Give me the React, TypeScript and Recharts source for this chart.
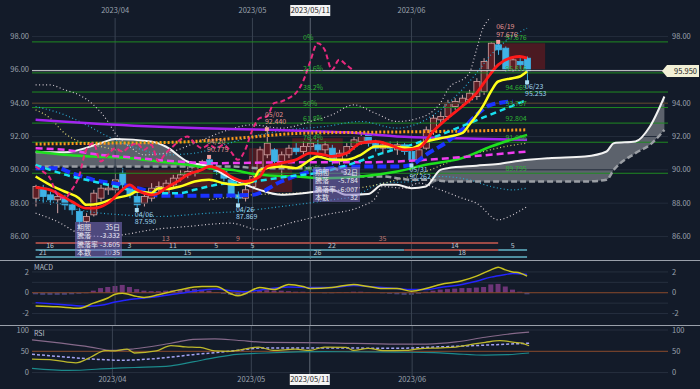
import React from 'react';
import {
  ComposedChart,
  Line,
  Area,
  Bar,
  Cell,
  XAxis,
  YAxis,
  ReferenceLine,
  ReferenceArea,
  ReferenceDot
} from 'recharts';

const BG = '#131b29';
const FONT = '"Noto Sans CJK JP", "Noto Sans", sans-serif';
const SLOTS = 88;

// daily candles (index 0 = mid March)
const opens = [88.3, 88.9, 88.5, 88.2, 88.3, 87.9, 87.5, 86.9, 87.3, 88.3, 88.8, 88.8, 89.8, 88.9, 88.4, 88.0, 88.3, 88.8, 88.6, 89.1, 89.5, 89.7, 89.8, 90.3, 90.6, 90.2, 89.9, 89.4, 88.5, 88.3, 89.0, 89.9, 90.9, 91.2, 90.5, 90.9, 91.3, 91.1, 91.4, 91.5, 91.2, 91.3, 90.5, 91.0, 91.4, 91.7, 92.1, 91.6, 91.3, 91.5, 91.2, 91.5, 91.1, 90.6, 91.3, 92.3, 93.0, 93.2, 93.8, 94.0, 94.2, 94.4, 94.7, 96.0, 97.5, 97.3, 96.0, 96.5, 96.7];
const highs = [89.1, 89.1, 88.7, 88.6, 88.5, 88.1, 87.7, 87.4, 88.8, 89.1, 89.2, 89.8, 90.1, 89.1, 88.6, 88.6, 89.2, 89.3, 89.4, 89.7, 90.0, 90.2, 90.5, 90.6, 90.775, 90.4, 90.1, 89.6, 88.7, 89.1, 89.9, 91.4, 92.44, 91.3, 91.1, 91.5, 91.6, 91.7, 91.8, 91.8, 91.7, 91.5, 91.2, 91.6, 92.0, 92.2, 92.2, 91.8, 91.7, 91.7, 91.7, 91.6, 91.2, 91.4, 92.6, 93.3, 93.5, 94.2, 94.3, 94.5, 94.8, 95.5, 96.7, 97.65, 97.676, 97.4, 96.8, 96.7, 96.8];
const lows = [87.8, 88.0, 87.9, 87.4, 87.6, 87.3, 86.5, 86.8, 87.2, 88.1, 88.5, 88.6, 88.9, 88.3, 87.59, 87.8, 88.1, 88.6, 88.4, 88.9, 89.3, 89.5, 89.6, 90.0, 90.0, 89.7, 89.3, 88.3, 87.869, 88.1, 88.8, 89.8, 90.7, 90.3, 89.7, 90.7, 90.9, 90.8, 91.2, 91.0, 90.9, 90.3, 90.3, 90.8, 91.2, 91.5, 91.4, 91.1, 91.0, 91.1, 90.9, 90.9, 90.262, 90.5, 91.2, 92.1, 92.8, 93.0, 93.6, 93.8, 94.0, 94.2, 94.5, 95.9, 96.9, 95.9, 95.9, 96.0, 95.253];
const closes = [89.0, 88.4, 88.2, 88.4, 87.9, 87.6, 86.9, 87.2, 88.6, 88.9, 88.9, 89.4, 89.1, 88.5, 87.9, 88.4, 88.9, 89.0, 89.2, 89.5, 89.7, 89.9, 90.3, 90.5, 90.2, 89.9, 89.5, 88.5, 88.3, 88.8, 89.6, 91.2, 91.6, 90.5, 90.9, 91.3, 91.1, 91.4, 91.6, 91.2, 91.5, 90.5, 91.0, 91.4, 91.8, 92.0, 91.6, 91.3, 91.5, 91.3, 91.5, 91.1, 90.6, 91.2, 92.4, 93.1, 93.2, 94.0, 94.1, 94.3, 94.6, 95.3, 96.5, 97.6, 97.2, 96.0, 96.6, 96.3, 95.95];
const lastPrice = 95.95;
const chikouShift = 24;

// moving averages etc. as [bar index, value] points
const redMa = [[0, 88.95], [2, 88.8], [5, 88.1], [7, 87.7], [8, 87.7], [10, 88.0], [12, 88.8], [13, 89.1], [14, 88.8], [16, 88.5], [17, 88.6], [18, 88.9], [20, 89.4], [21, 89.7], [23, 90.0], [24, 90.2], [26, 89.9], [27, 89.6], [29, 89.3], [31, 89.6], [32, 90.2], [34, 90.4], [36, 90.6], [38, 91.0], [40, 90.9], [41, 90.8], [43, 91.0], [45, 91.6], [47, 91.7], [49, 91.5], [51, 91.2], [53, 91.3], [55, 92.3], [57, 93.1], [59, 93.8], [61, 94.6], [62, 95.2], [64, 96.3], [66, 96.75], [67, 96.8], [68, 96.7]];
const yellowMa = [[0, 89.6], [2, 89.1], [4, 88.7], [6, 88.3], [7, 87.9], [9, 88.0], [11, 88.3], [13, 88.5], [14, 88.7], [16, 88.6], [17, 88.9], [18, 88.85], [20, 89.0], [22, 89.3], [24, 89.4], [26, 89.2], [28, 89.1], [30, 89.3], [31, 90.0], [34, 90.2], [36, 90.1], [38, 90.6], [39, 90.8], [41, 90.6], [43, 90.6], [45, 90.9], [47, 91.4], [49, 91.4], [52, 91.3], [54, 91.7], [56, 91.9], [59, 92.2], [60, 92.7], [62, 93.9], [63, 94.7], [64, 95.3], [66, 95.5], [67, 95.6], [68, 95.9]];
const cyanMa = [[0, 90.3], [2, 90.0], [5, 89.6], [7, 89.4], [10, 89.1], [12, 88.9], [14, 88.7], [17, 88.6], [20, 88.6], [22, 88.8], [25, 89.1], [30, 89.3], [35, 89.6], [40, 89.9], [44, 90.4], [48, 91.0], [52, 91.5], [56, 92.1], [60, 92.8], [64, 93.5], [68, 94.2]];
const blueMa = [[0, 90.1], [3, 90.1], [5, 89.8], [8, 89.4], [12, 89.1], [15, 88.8], [17, 88.45], [20, 88.45], [25, 88.45], [30, 88.5], [34, 89.3], [38, 89.9], [41, 90.1], [45, 90.2], [50, 90.2], [52, 90.3], [54, 90.9], [57, 91.7], [59, 92.4], [61, 93.3], [63, 93.9], [66, 94.1]];
const greenMa = [[0, 91.1], [4, 90.9], [8, 90.8], [13, 90.7], [17, 90.5], [21, 90.3], [24, 90.1], [27, 90.0], [31, 89.7], [36, 89.6], [40, 89.5], [45, 89.6], [50, 89.9], [54, 90.3], [59, 90.7], [63, 91.4], [68, 92.1]];
const magentaMa = [[0, 91.3], [4, 91.2], [9, 90.9], [13, 90.75], [18, 90.55], [25, 90.4], [35, 90.45], [45, 90.45], [54, 90.6], [60, 90.8], [68, 91.1]];
const purpleMa = [[0, 93.0], [9, 92.75], [23, 92.5], [32, 92.4], [43, 92.25], [50, 92.0], [58, 91.9], [68, 91.8]];
const orangeMa = [[0, 91.55], [10, 91.6], [19, 91.65], [28, 91.9], [37, 92.2], [45, 92.25], [55, 92.3], [68, 92.4]];

// bollinger style bands
const bandUpWhite = [[0, 95.1], [2, 95.1], [4, 94.8], [6, 94.5], [8, 93.9], [10, 92.9], [11, 92.2], [13, 91.4], [15, 90.9], [18, 91.0], [22, 91.6], [26, 92.3], [30, 92.7], [34, 92.5], [38, 92.9], [41, 93.3], [44, 93.9], [47, 93.4], [50, 92.9], [53, 93.1], [56, 94.0], [57, 94.8], [60, 95.8], [61, 97.2], [62, 98.6], [64, 99.4]];
const bandLoWhite = [[0, 87.4], [3, 86.9], [6, 86.2], [9, 86.0], [12, 86.1], [16, 86.4], [21, 86.6], [27, 86.8], [31, 86.4], [36, 86.9], [40, 87.3], [45, 87.8], [47, 88.3], [48, 89.0], [51, 88.9], [53, 89.2], [56, 88.8], [59, 88.3], [61, 88.0], [64, 87.0], [66, 87.3], [68, 87.8]];
const bandUpCyan = [[0, 93.8], [4, 93.3], [7, 92.7], [10, 92.0], [14, 91.3], [18, 90.9], [22, 91.0], [26, 91.5], [30, 92.0], [35, 92.4], [40, 92.6], [45, 92.9], [50, 92.5], [53, 92.8], [56, 93.6], [59, 94.8], [61, 95.8], [63, 96.9], [65, 97.7], [68, 98.5]];
const bandLoCyan = [[0, 88.2], [4, 87.9], [6, 87.6], [12, 87.3], [17, 87.2], [24, 87.4], [28, 87.5], [34, 87.8], [41, 88.2], [44, 88.4], [48, 89.2], [52, 89.3], [56, 89.6], [60, 89.4], [63, 89.0], [66, 88.8], [68, 88.9]];
const bandUpYellow = [[0, 93.6], [2, 93.1], [4, 92.2], [6, 91.7], [9, 91.4], [12, 91.1]];
const bandLoYellow = [[24, 88.2], [30, 88.5], [36, 88.6], [42, 88.8], [46, 89.0], [50, 89.4], [54, 89.9], [58, 90.6], [62, 91.1], [65, 91.4], [68, 91.6]];

// ichimoku cloud (leading spans, shifted forward)
const cloudIdx = [0, 4, 9, 11, 16, 18, 21, 24, 27, 31, 34, 37, 41, 43, 46, 48, 50, 52, 54, 56, 57, 61, 64, 67, 71, 76, 79, 80, 83, 85, 87];
const spanA = [91.05, 91.05, 91.6, 91.85, 91.7, 91.4, 90.5, 90.2, 89.5, 88.8, 88.5, 88.6, 88.8, 88.5, 88.55, 89.1, 89.1, 88.9, 89.0, 90.0, 90.1, 90.25, 90.35, 90.55, 90.7, 90.8, 91.1, 91.6, 91.7, 92.6, 94.4];
const spanB = [90.2, 90.2, 90.2, 90.2, 90.2, 90.2, 90.2, 90.2, 90.2, 90.1, 90.1, 90.1, 90.1, 89.8, 89.6, 89.6, 89.5, 89.4, 89.4, 89.35, 89.3, 89.3, 89.3, 89.3, 89.3, 89.3, 89.4, 90.0, 91.0, 91.5, 92.4];

// fibonacci retracement
const fibPct = ['0%', '23.6%', '38.2%', '50%', '61.8%', '76.4%', '100%'];
const fibVal = [97.676, 95.816, 94.669, 93.737, 92.804, 91.656, 89.795];

// marked highs / lows
const marks = [
  { i: 64, p: 97.676, date: '06/19', hi: true },
  { i: 68, p: 95.253, date: '06/23', hi: false },
  { i: 32, p: 92.44, date: '05/02', hi: true },
  { i: 24, p: 90.775, date: '04/20', hi: true },
  { i: 14, p: 87.59, date: '04/06', hi: false },
  { i: 28, p: 87.869, date: '04/26', hi: false },
  { i: 52, p: 90.262, date: '05/31', hi: false }
];

// range boxes
const boxes = [
  { x1: 13, x2: 24, lo: 88.97, hi: 90.0 },
  { x1: 30, x2: 35, lo: 88.67, hi: 91.3 },
  { x1: 36, x2: 42, lo: 91.0, hi: 91.9 },
  { x1: 65, x2: 70, lo: 96.0, hi: 97.6 }
];

// up/down run counters under the chart
const runRows = [
  [{ from: 0, to: 64, color: '#9c4a46', labels: [[18, '13'], [28, '9'], [48, '35']] }],
  [
    { from: 0, to: 51, color: '#4e8ea0', labels: [[2, '16'], [13, '3'], [19, '11'], [25, '5'], [30, '5'], [41, '22']] },
    { from: 51, to: 64, color: '#9c4a46', labels: [[58, '14']] },
    { from: 64, to: 68, color: '#4e8ea0', labels: [[66, '5']] }
  ],
  [{ from: 0, to: 68, color: '#4e8ea0', labels: [[1, '21'], [10, '10'], [21, '15'], [39, '26'], [59, '18']] }]
];
const runRowY = [16, 9, 2];

// MACD
const macdLine = [[0, -1.27], [3, -1.35], [6, -1.5], [8, -1.0], [10, -0.5], [11, -0.15], [12, -0.05], [14, -0.35], [15, -0.45], [17, -0.2], [20, 0.3], [23, 0.6], [25, 0.6], [27, -0.1], [28, -0.3], [29, -0.1], [31, 0.5], [33, 0.3], [35, 0.8], [37, 0.6], [38, 0.4], [41, 0.5], [44, 0.8], [46, 0.6], [48, 0.4], [50, 0.4], [52, 0.15], [54, 0.4], [56, 0.8], [59, 1.15], [61, 1.6], [63, 2.2], [64, 2.45], [65, 2.2], [66, 2.0], [67, 1.9], [68, 1.6]];
const macdSignal = [[0, -0.95], [4, -1.15], [7, -1.3], [9, -1.2], [11, -0.9], [13, -0.65], [15, -0.5], [17, -0.35], [20, -0.05], [23, 0.25], [25, 0.35], [27, 0.2], [29, 0.1], [31, 0.25], [35, 0.55], [38, 0.5], [41, 0.5], [44, 0.7], [47, 0.55], [50, 0.4], [52, 0.3], [54, 0.3], [56, 0.5], [59, 0.8], [61, 1.1], [63, 1.5], [65, 1.75], [66, 1.85], [68, 1.75]];
const macdHist = [-0.15, -0.2, -0.2, -0.2, -0.2, -0.15, -0.1, -0.05, 0.2, 0.45, 0.55, 0.65, 0.75, 0.55, 0.35, 0.2, 0.15, 0.15, 0.2, 0.25, 0.3, 0.35, 0.35, 0.3, 0.2, 0.05, -0.1, -0.2, -0.25, -0.15, 0.1, 0.2, 0.25, 0.2, 0.2, 0.15, 0.1, 0.1, 0.05, 0, -0.05, -0.05, 0.05, 0.05, 0.1, 0.1, 0.05, 0, -0.05, -0.1, -0.15, -0.2, -0.2, -0.1, 0.1, 0.2, 0.3, 0.35, 0.4, 0.45, 0.45, 0.5, 0.55, 0.8, 0.85, 0.6, 0.3, 0.1, -0.15];

// RSI
const rsiFast = [[0, 31.5], [3, 29.5], [6, 23], [8, 36], [10, 51.8], [11, 51], [13, 55], [14, 46], [17, 51], [19, 63.5], [21, 60.5], [23, 59], [25, 51], [27, 50], [31, 60], [33, 52], [36, 55], [38, 52], [40, 60], [43, 59], [44, 52], [46, 57], [48, 51.5], [51, 52], [53, 56], [56, 58], [58, 60], [61, 68.6], [62, 71], [64, 75], [66, 71], [67, 69], [68, 63]];
const rsiUpper = [[0, 77], [4, 69], [8, 60], [11, 52], [14, 56], [17, 63], [20, 72], [22, 78], [25, 79], [28, 76], [32, 71], [40, 70], [50, 67], [54, 67], [58, 72], [62, 83], [65, 90], [68, 95]];
const rsiLower = [[0, 10], [5, 5], [11, 10], [14, 12], [19, 16], [22, 25], [25, 35], [28, 43], [32, 46], [40, 49], [50, 48], [55, 47], [58, 44], [62, 41], [65, 42], [68, 46]];
const rsiSlow = [[0, 43], [5, 36], [9, 31], [12, 29], [17, 33], [22, 42], [27, 50], [32, 58], [40, 58], [50, 57], [55, 60], [60, 63], [64, 66], [68, 69]];

const monthIdx = [11, 30, 52];
const cursorIdx = 38;
const dateText: Record<number, string> = { 11: '2023/04', 30: '2023/05', 38: '2023/05/11', 52: '2023/06' };

const toMap = (pts: number[][]) => new Map(pts.map(([i, v]) => [i, v]));
const maps = {
  red: toMap(redMa),
  yel: toMap(yellowMa),
  cyan: toMap(cyanMa),
  blue: toMap(blueMa),
  green: toMap(greenMa),
  mag: toMap(magentaMa),
  purp: toMap(purpleMa),
  orng: toMap(orangeMa),
  bbUw: toMap(bandUpWhite),
  bbLw: toMap(bandLoWhite),
  bbUc: toMap(bandUpCyan),
  bbLc: toMap(bandLoCyan),
  bbUy: toMap(bandUpYellow),
  bbLy: toMap(bandLoYellow),
  macd: toMap(macdLine),
  sig: toMap(macdSignal),
  rF: toMap(rsiFast),
  rU: toMap(rsiUpper),
  rL: toMap(rsiLower),
  rS: toMap(rsiSlow)
};

const rows = Array.from({ length: SLOTS }, (_, i) => {
  const row: any = { i };
  if (i < closes.length) {
    row.hl = [lows[i], highs[i]];
    row.o = opens[i];
    row.c = closes[i];
    row.h = highs[i];
    row.l = lows[i];
    row.hist = macdHist[i];
  }
  const ci = i + chikouShift;
  row.chikou = ci < closes.length ? closes[ci] : null;
  (Object.keys(maps) as (keyof typeof maps)[]).forEach((k) => {
    row[k] = maps[k].get(i) ?? null;
  });
  const k = cloudIdx.indexOf(i);
  if (k >= 0) {
    row.spanA = spanA[k];
    row.spanB = spanB[k];
    row.cloud = spanA[k] >= spanB[k] ? [spanB[k], spanA[k]] : [spanA[k], spanA[k]];
  } else {
    row.spanA = null;
    row.spanB = null;
    row.cloud = null;
  }
  return row;
});

const Candle = (props: any) => {
  const { x, y, width, height, payload } = props;
  if (!payload || payload.o == null) return null;
  const top = Math.min(y, y + height);
  const h = Math.abs(height);
  const k = h / (payload.h - payload.l || 1);
  const yo = top + (payload.h - payload.o) * k;
  const yc = top + (payload.h - payload.c) * k;
  const up = payload.c >= payload.o;
  const cx = x + width / 2;
  const edge = up ? '#d3a4a4' : '#3fb2e6';
  return (
    <g>
      <line x1={cx} x2={cx} y1={top} y2={top + h} stroke={edge} strokeWidth={1} />
      <rect
        x={x}
        y={Math.min(yo, yc)}
        width={width}
        height={Math.max(1, Math.abs(yc - yo))}
        fill={up ? '#5c1d24' : '#3fb2e6'}
        stroke={edge}
        strokeWidth={0.8}
      />
    </g>
  );
};

const Tag = (props: any) => {
  const { viewBox, value, fill, dx = 0, dy = 0, anchor = 'start', size = 7.5 } = props;
  if (!viewBox) return null;
  return (
    <text x={viewBox.x + dx} y={viewBox.y + dy} fill={fill} fontSize={size} textAnchor={anchor} fontFamily={FONT}>
      {value}
    </text>
  );
};

const MarkLabel = (props: any) => {
  const { viewBox, date, price, hi } = props;
  if (!viewBox) return null;
  const fill = hi ? '#e39494' : '#9fd4f0';
  const d1 = hi ? -10.5 : 8.5;
  const d2 = hi ? -3 : 16;
  return (
    <g fontFamily={FONT} fontSize={7} fill={fill}>
      <text x={viewBox.x} y={viewBox.y + d1}>{date}</text>
      <text x={viewBox.x} y={viewBox.y + d2}>{price}</text>
    </g>
  );
};

const DateTick = (props: any) => {
  const { x, payload, ty } = props;
  const text = dateText[payload.value];
  if (!text) return null;
  if (payload.value === cursorIdx) {
    return (
      <g>
        <rect x={x - 20} y={ty - 8} width={40} height={11} fill="#f4f4f4" />
        <text x={x} y={ty} textAnchor="middle" fontSize={7.5} fill="#222" fontFamily={FONT}>
          {text}
        </text>
      </g>
    );
  }
  return (
    <text x={x} y={ty} textAnchor="middle" fontSize={7.5} fill="#9aa2ae" fontFamily={FONT}>
      {text}
    </text>
  );
};

const axisTick = { fontSize: 7.5, fill: '#9aa2ae', fontFamily: FONT };

const vLines = (yId: string) => [
  ...monthIdx.map((m) => <ReferenceLine key={'m' + m} yAxisId={yId} x={m} stroke="#3a4352" />),
  <ReferenceLine key="cur" yAxisId={yId} x={cursorIdx} stroke="#5d6673" />
];

const line = (key: string, color: string, width: number, dash?: string, yId = 'p') => (
  <Line
    key={key}
    yAxisId={yId}
    dataKey={key}
    type="monotone"
    stroke={color}
    strokeWidth={width}
    strokeDasharray={dash}
    dot={false}
    activeDot={false}
    connectNulls
    isAnimationActive={false}
  />
);

function MainChart() {
  return (
    <ComposedChart width={700} height={262} data={rows} margin={{ top: 0, right: 0, left: 0, bottom: 3 }}>
      <XAxis
        dataKey="i"
        orientation="top"
        height={18}
        interval={0}
        ticks={[11, 30, 38, 52]}
        axisLine={false}
        tickLine={false}
        tick={<DateTick ty={13} />}
      />
      <YAxis
        yAxisId="p"
        domain={[84.65, 99.11]}
        ticks={[86, 88, 90, 92, 94, 96, 98]}
        tickFormatter={(v) => v.toFixed(2)}
        width={32}
        axisLine={false}
        tickLine={false}
        tickSize={0}
        tickMargin={3}
        tick={axisTick}
        allowDataOverflow
      />
      <YAxis
        yAxisId="pr"
        orientation="right"
        domain={[84.65, 99.11]}
        ticks={[86, 88, 90, 92, 94, 98]}
        tickFormatter={(v) => v.toFixed(2)}
        width={32}
        axisLine={false}
        tickLine={false}
        tickSize={0}
        tickMargin={4}
        tick={axisTick}
        allowDataOverflow
      />
      <YAxis yAxisId="rows" hide domain={[0, 241]} allowDataOverflow />

      {[86, 88, 90, 92, 96, 98].map((g) => (
        <ReferenceLine key={'g' + g} yAxisId="p" y={g} stroke="#222b3a" />
      ))}
      <ReferenceLine yAxisId="p" y={94} stroke="#4a3b2c" strokeWidth={1.5} />
      {vLines('p')}

      {boxes.map((b, k) => (
        <ReferenceArea key={'b' + k} yAxisId="p" x1={b.x1} x2={b.x2} y1={b.lo} y2={b.hi} fill="#5a1a20" fillOpacity={0.8} stroke="none" />
      ))}

      <Area
        yAxisId="p"
        dataKey="cloud"
        type="monotone"
        stroke="none"
        fill="#8d9299"
        fillOpacity={0.6}
        connectNulls
        isAnimationActive={false}
      />

      {fibVal.map((v, k) => (
        <ReferenceLine key={'f' + k} yAxisId="p" y={v} stroke="#1f8a22" strokeWidth={1} />
      ))}

      {line('bbUw', '#d8cfd6', 1.2, '1 2.5')}
      {line('bbLw', '#d8cfd6', 1.2, '1 2.5')}
      {line('bbUc', '#2aa8d0', 1.2, '1 2.5')}
      {line('bbLc', '#2aa8d0', 1.2, '1 2.5')}
      {line('bbUy', '#d9d070', 1.2, '1 2.5')}
      {line('bbLy', '#d9d070', 1.2, '1 2.5')}

      <Bar yAxisId="p" dataKey="hl" barSize={6} shape={Candle} isAnimationActive={false} />

      {line('spanB', '#9a9ea4', 2.5, '6 3')}
      {line('spanA', '#f2f2f2', 2)}
      {line('purp', '#a324f0', 2.5)}
      {line('orng', '#ff9a1a', 3, '2 2')}
      {line('green', '#1ee01e', 2.5)}
      {line('mag', '#f03cf0', 2.5, '7 4')}
      {line('blue', '#1a32ff', 4, '9 4')}
      {line('cyan', '#18e0f0', 2.5, '6 4')}
      {line('yel', '#ffff1a', 2.5)}
      {line('red', '#ff1a1a', 2.8)}
      {line('chikou', '#e8287e', 2, '5 3')}

      <ReferenceLine yAxisId="p" y={lastPrice} stroke="#d8d8d8" strokeWidth={1} />

      {fibVal.map((v, k) => (
        <ReferenceDot
          key={'fl' + k}
          yAxisId="p"
          x={37}
          y={v}
          r={0}
          fill="none"
          stroke="none"
          label={<Tag value={fibPct[k]} fill="#2fb234" dy={-2} size={7} />}
        />
      ))}
      {fibVal.map((v, k) => (
        <ReferenceDot
          key={'fv' + k}
          yAxisId="p"
          x={65}
          y={v}
          r={0}
          fill="none"
          stroke="none"
          label={<Tag value={v.toFixed(3)} fill="#2fb234" dy={-2} size={7} />}
        />
      ))}

      {marks.map((m) => (
        <ReferenceDot
          key={m.date}
          yAxisId="p"
          x={m.i}
          y={m.p}
          r={2}
          shape={(p: any) => (
            <rect x={p.cx - 2} y={p.cy - 2} width={4} height={4} fill={m.hi ? '#f0a0a0' : '#a8dcf4'} />
          )}
          label={<MarkLabel date={m.date} price={m.p.toFixed(3)} hi={m.hi} />}
        />
      ))}

      {runRows.map((segs, r) =>
        segs.map((s, k) => (
          <ReferenceLine
            key={'rl' + r + k}
            yAxisId="rows"
            segment={[{ x: s.from, y: runRowY[r] }, { x: s.to, y: runRowY[r] }]}
            stroke={s.color}
            strokeWidth={2}
          />
        ))
      )}
      {runRows.map((segs, r) =>
        segs.map((s) =>
          s.labels.map(([at, txt]) => (
            <ReferenceDot
              key={'rt' + r + at}
              yAxisId="rows"
              x={at as number}
              y={runRowY[r]}
              r={0}
              fill="none"
              stroke="none"
              label={<Tag value={txt} fill={r === 0 ? '#c07a74' : '#b9c6d0'} dy={-2} anchor="middle" size={7} />}
            />
          ))
        )
      )}
    </ComposedChart>
  );
}

function MacdChart() {
  return (
    <ComposedChart width={700} height={64} data={rows} margin={{ top: 0, right: 0, left: 0, bottom: 0 }}>
      <XAxis dataKey="i" hide />
      <YAxis yAxisId="m" domain={[-3.1, 3.05]} ticks={[-2, -1, 0, 1, 2]} width={32} axisLine={false} tickLine={false} tickSize={0} tickMargin={3} tick={axisTick} allowDataOverflow />
      <YAxis yAxisId="mr" orientation="right" domain={[-3.1, 3.05]} ticks={[-2, -1, 0, 1, 2]} width={32} axisLine={false} tickLine={false} tickSize={0} tickMargin={4} tick={axisTick} allowDataOverflow />
      {[-2, -1, 1, 2].map((g) => (
        <ReferenceLine key={g} yAxisId="m" y={g} stroke="#262f3e" />
      ))}
      {vLines('m')}
      <ReferenceLine yAxisId="m" y={0} stroke="#8a4a2c" />
      <Bar yAxisId="m" dataKey="hist" barSize={5} isAnimationActive={false}>
        {rows.map((r) => (
          <Cell key={r.i} fill={r.hist >= 0 ? '#6d3577' : '#46467e'} />
        ))}
      </Bar>
      {line('sig', '#2424ff', 1.5, undefined, 'm')}
      {line('macd', '#c9c21e', 1.5, undefined, 'm')}
    </ComposedChart>
  );
}

function RsiChart() {
  return (
    <ComposedChart width={700} height={69} data={rows} margin={{ top: 6, right: 0, left: 0, bottom: 0 }}>
      <XAxis
        dataKey="i"
        height={13}
        interval={0}
        ticks={[11, 30, 38, 52]}
        axisLine={false}
        tickLine={false}
        tick={<DateTick ty={62} />}
      />
      <YAxis yAxisId="r" domain={[-8, 109.4]} ticks={[0, 50, 100]} width={32} axisLine={false} tickLine={false} tickSize={0} tickMargin={3} tick={axisTick} allowDataOverflow />
      <YAxis yAxisId="rr" orientation="right" domain={[-8, 109.4]} ticks={[0, 50, 100]} width={32} axisLine={false} tickLine={false} tickSize={0} tickMargin={4} tick={axisTick} allowDataOverflow />
      <ReferenceLine yAxisId="r" y={0} stroke="#262f3e" />
      <ReferenceLine yAxisId="r" y={100} stroke="#262f3e" />
      {vLines('r')}
      <ReferenceLine yAxisId="r" y={50} stroke="#8a4a2c" />
      {line('rU', '#86698a', 1.2, undefined, 'r')}
      {line('rL', '#1c8a8c', 1.2, undefined, 'r')}
      {line('rS', '#a4a4f4', 1.5, '3 2', 'r')}
      {line('rF', '#bdb82c', 1.3, undefined, 'r')}
    </ComposedChart>
  );
}

const infoBox = (left: number, top: number, items: string[][]) => (
  <div
    style={{
      position: 'absolute',
      left,
      top,
      width: 43,
      background: 'rgba(128,112,196,0.55)',
      padding: '1px 2px',
      fontFamily: FONT,
      fontSize: 7,
      lineHeight: '8.3px',
      color: '#e6e6f2'
    }}
  >
    {items.map(([a, b]) => (
      <div key={a} style={{ display: 'flex', justifyContent: 'space-between' }}>
        <span>{a}</span>
        <span>{b}</span>
      </div>
    ))}
  </div>
);

export default function App() {
  return (
    <div style={{ position: 'absolute', left: 0, top: 0, width: 700, height: 389, background: BG, overflow: 'hidden' }}>
      <div style={{ position: 'absolute', left: 0, top: 0 }}>
        <MainChart />
      </div>
      <div style={{ position: 'absolute', left: 0, top: 261 }}>
        <MacdChart />
      </div>
      <div style={{ position: 'absolute', left: 0, top: 320 }}>
        <RsiChart />
      </div>
      <div style={{ position: 'absolute', left: 0, top: 260, width: 700, height: 1, background: '#9aa0aa' }} />
      <div style={{ position: 'absolute', left: 0, top: 325, width: 700, height: 1, background: '#9aa0aa' }} />
      <div style={{ position: 'absolute', left: 34, top: 262, fontFamily: FONT, fontSize: 7, color: '#b8bec8' }}>MACD</div>
      <div style={{ position: 'absolute', left: 34, top: 328, fontFamily: FONT, fontSize: 7, color: '#b8bec8' }}>RSI</div>
      {infoBox(75, 222, [['期間', '35日'], ['騰落', '-3.332'], ['騰落率', '-3.605'], ['本数', '35']])}
      {infoBox(313, 167, [['期間', '32日'], ['騰落', '-5.784'], ['騰落率', '-6.007'], ['本数', '32']])}
      <div
        style={{
          position: 'absolute',
          left: 662,
          top: 65,
          width: 37,
          height: 12,
          background: '#f2f0d6',
          clipPath: 'polygon(0 50%, 5px 0, 100% 0, 100% 100%, 5px 100%)',
          fontFamily: FONT,
          fontSize: 7.5,
          lineHeight: '12px',
          color: '#222',
          textAlign: 'right',
          paddingRight: 2,
          boxSizing: 'border-box'
        }}
      >
        {lastPrice.toFixed(3)}
      </div>
    </div>
  );
}
